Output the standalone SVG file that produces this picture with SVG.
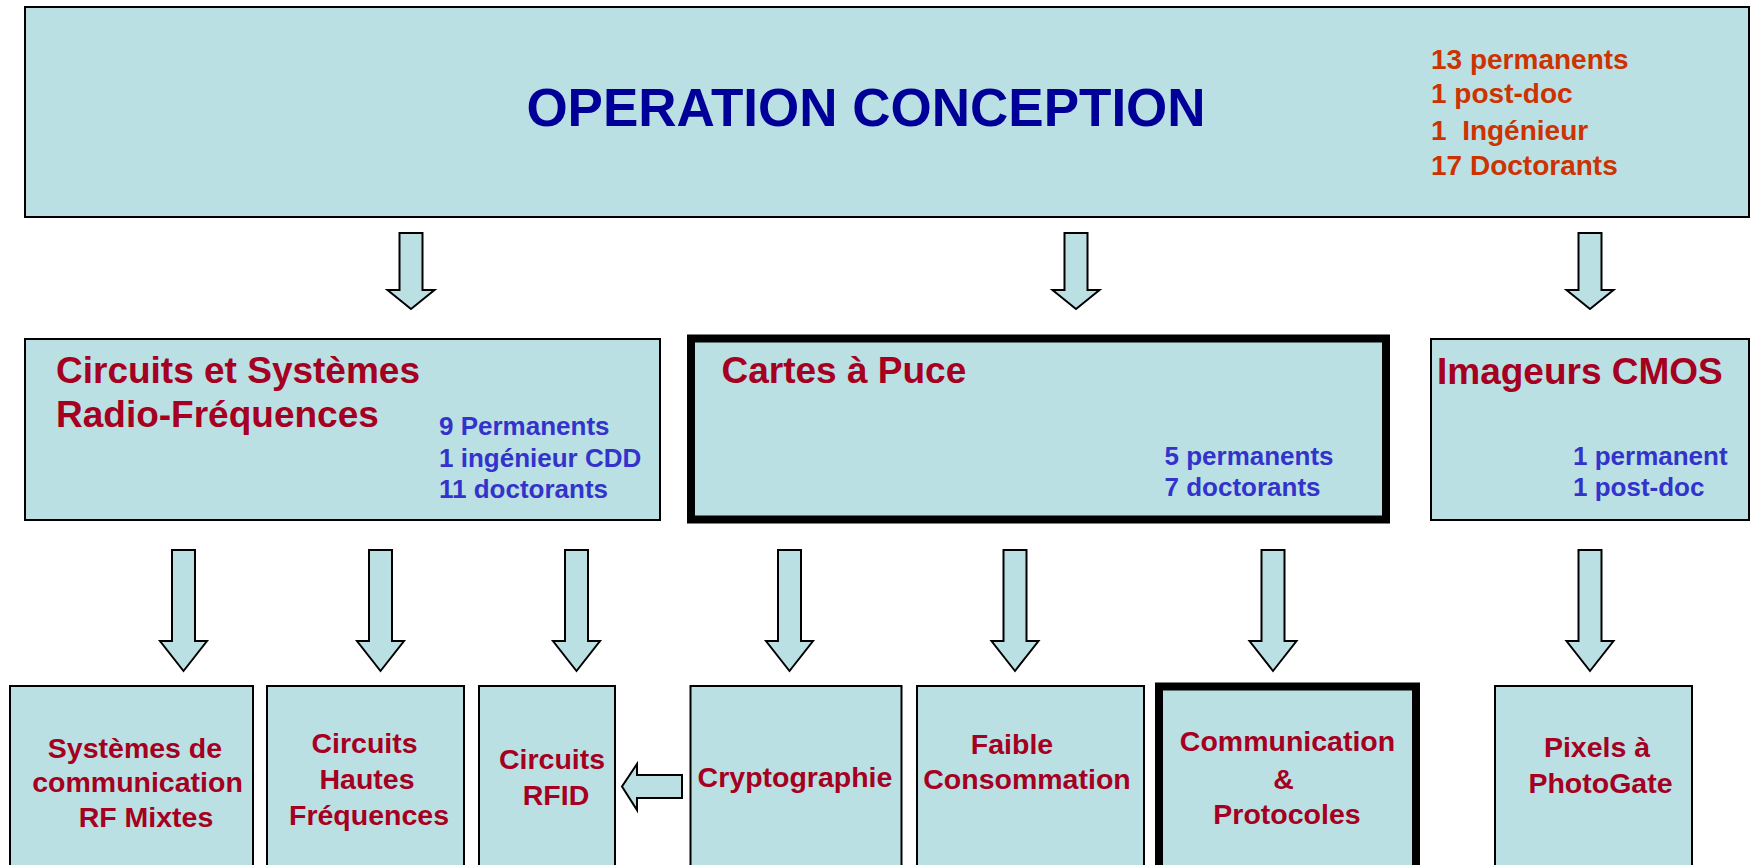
<svg xmlns="http://www.w3.org/2000/svg" width="1755" height="865" viewBox="0 0 1755 865">
<style>
  .box { fill: #BBE0E3; stroke: #000; stroke-width: 2; }
  .thick { fill: #BBE0E3; stroke: #000; stroke-width: 8; }
  .arr { fill: #BBE0E3; stroke: #000; stroke-width: 2; stroke-linejoin: miter; }
  text { font-family: "Liberation Sans", Arial, sans-serif; font-weight: bold; }
  .title { fill: #000099; font-size: 53px; }
  .orange { fill: #CC3300; font-size: 28px; }
  .cat { fill: #A50021; font-size: 37px; }
  .blue { fill: #3333CC; font-size: 26px; }
  .leaf { fill: #A50021; font-size: 28.5px; text-anchor: middle; }
</style>
<rect width="1755" height="865" fill="#FFFFFF"/>

<g id="operation-conception">
  <rect class="box" x="25" y="7" width="1724" height="210"/>
  <text class="title" x="866" y="126" text-anchor="middle">OPERATION CONCEPTION</text>
  <text class="orange" x="1431" y="68.5">13 permanents</text>
  <text class="orange" x="1431" y="103">1 post-doc</text>
  <text class="orange" x="1431" y="139.5" xml:space="preserve">1  Ingénieur</text>
  <text class="orange" x="1431" y="175">17 Doctorants</text>
</g>

<g id="circuits-systemes-rf">
  <rect class="box" x="25" y="339" width="635" height="181"/>
  <text class="cat" x="56" y="383">Circuits et Systèmes</text>
  <text class="cat" x="56" y="427">Radio-Fréquences</text>
  <text class="blue" x="439" y="434.5">9 Permanents</text>
  <text class="blue" x="439" y="466.5">1 ingénieur CDD</text>
  <text class="blue" x="439" y="498">11 doctorants</text>
</g>

<g id="cartes-a-puce">
  <rect class="thick" x="691" y="338.5" width="695" height="181"/>
  <text class="cat" x="721.5" y="383">Cartes à Puce</text>
  <text class="blue" x="1164.5" y="465">5 permanents</text>
  <text class="blue" x="1164.5" y="496">7 doctorants</text>
</g>

<g id="imageurs-cmos">
  <rect class="box" x="1431" y="339" width="318" height="181"/>
  <text class="cat" x="1437" y="384">Imageurs CMOS</text>
  <text class="blue" x="1573" y="465">1 permanent</text>
  <text class="blue" x="1573" y="496">1 post-doc</text>
</g>

<g id="systemes-communication-rf">
  <rect class="box" x="10" y="686" width="243" height="190"/>
  <text class="leaf" x="135" y="758">Systèmes de</text>
  <text class="leaf" x="137.5" y="792">communication</text>
  <text class="leaf" x="146" y="827">RF Mixtes</text>
</g>

<g id="circuits-hautes-frequences">
  <rect class="box" x="267" y="686" width="197" height="190"/>
  <text class="leaf" x="364.5" y="753">Circuits</text>
  <text class="leaf" x="367" y="789">Hautes</text>
  <text class="leaf" x="369" y="825">Fréquences</text>
</g>

<g id="circuits-rfid">
  <rect class="box" x="479" y="686" width="136" height="190"/>
  <text class="leaf" x="552" y="769">Circuits</text>
  <text class="leaf" x="556" y="805">RFID</text>
</g>

<g id="cryptographie">
  <rect class="box" x="690.5" y="686" width="211" height="190"/>
  <text class="leaf" x="795" y="787">Cryptographie</text>
</g>

<g id="faible-consommation">
  <rect class="box" x="917" y="686" width="227" height="190"/>
  <text class="leaf" x="1012" y="754">Faible</text>
  <text class="leaf" x="1027" y="789">Consommation</text>
</g>

<g id="communication-protocoles">
  <rect class="thick" x="1159" y="686.5" width="257" height="200"/>
  <text class="leaf" x="1287.5" y="751">Communication</text>
  <text class="leaf" x="1283.5" y="788.5">&amp;</text>
  <text class="leaf" x="1287" y="824">Protocoles</text>
</g>

<g id="pixels-photogate">
  <rect class="box" x="1495" y="686" width="197" height="190"/>
  <text class="leaf" x="1597" y="757">Pixels à</text>
  <text class="leaf" x="1600.5" y="792.5">PhotoGate</text>
</g>

<g id="connectors">
  <path class="arr" d="M399.5,233 H422.5 V290 H434.5 L411,309 L387.5,290 H399.5 Z"/>
  <path class="arr" d="M1064.5,233 H1087.5 V290 H1099.5 L1076,309 L1052.5,290 H1064.5 Z"/>
  <path class="arr" d="M1578.5,233 H1601.5 V290 H1613.5 L1590,309 L1566.5,290 H1578.5 Z"/>
  <path class="arr" d="M172,550 H195 V641 H207 L183.5,671 L160,641 H172 Z"/>
  <path class="arr" d="M369,550 H392 V641 H404 L380.5,671 L357,641 H369 Z"/>
  <path class="arr" d="M565,550 H588 V641 H600 L576.5,671 L553,641 H565 Z"/>
  <path class="arr" d="M778,550 H801 V641 H813 L789.5,671 L766,641 H778 Z"/>
  <path class="arr" d="M1003.5,550 H1026.5 V641 H1038.5 L1015,671 L991.5,641 H1003.5 Z"/>
  <path class="arr" d="M1261.5,550 H1284.5 V641 H1296.5 L1273,671 L1249.5,641 H1261.5 Z"/>
  <path class="arr" d="M1578.5,550 H1601.5 V641 H1613.5 L1590,671 L1566.5,641 H1578.5 Z"/>
  <path class="arr" d="M682,775 V798 H637 V810 L622,786.5 L637,764 V775 Z"/>
</g>
</svg>
